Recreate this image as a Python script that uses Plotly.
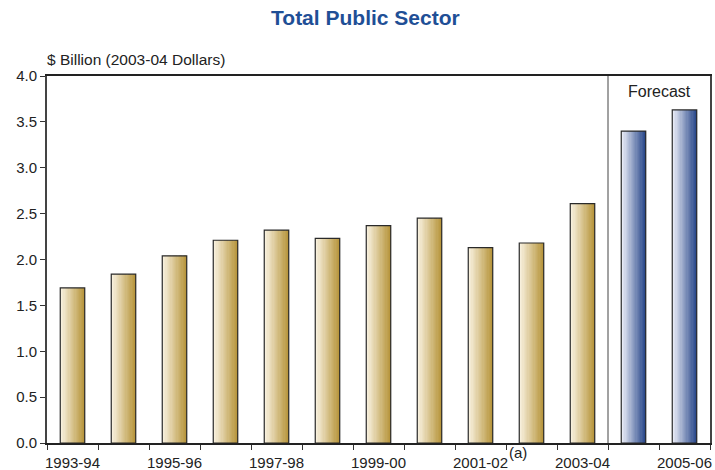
import plotly.graph_objects as go

# Financial years and spending ($ billion, 2003-04 dollars)
years = ["1993-94", "1994-95", "1995-96", "1996-97", "1997-98", "1998-99",
         "1999-00", "2000-01", "2001-02", "2002-03", "2003-04", "2004-05", "2005-06"]
values = [1.69, 1.84, 2.04, 2.21, 2.32, 2.23, 2.37, 2.45, 2.13, 2.18, 2.61, 3.40, 3.63]
forecast = [False] * 11 + [True] * 2
tick_labels = [y if i % 2 == 0 else "" for i, y in enumerate(years)]

# Gradient end colours (left -> right) for actual and forecast bars
gold_light, gold_dark = (250, 244, 228), (184, 150, 62)
blue_light, blue_dark = (240, 242, 250), (44, 74, 140)


def mix(c1, c2, t):
    return "rgb(%d,%d,%d)" % tuple(round(a + (b - a) * t) for a, b in zip(c1, c2))


BAR_W = 0.48
N_SLICES = 20
slice_w = BAR_W / N_SLICES

fig = go.Figure()

# Horizontal gradient fill built from thin vertical slices
for i in range(N_SLICES):
    t = i / (N_SLICES - 1)
    colors = [mix(blue_light, blue_dark, t) if f else mix(gold_light, gold_dark, t)
              for f in forecast]
    fig.add_trace(go.Bar(
        x=years, y=values, width=slice_w, offset=-BAR_W / 2 + i * slice_w,
        marker=dict(color=colors, line=dict(width=0)),
        showlegend=False, hoverinfo="skip",
    ))

# Bar outlines
fig.add_trace(go.Bar(
    x=years, y=values, width=BAR_W, offset=-BAR_W / 2,
    marker=dict(color="rgba(0,0,0,0)", line=dict(color="#2a2a2a", width=1.2)),
    showlegend=False,
))

# Separator between actual and forecast years
fig.add_shape(type="line", xref="x", yref="y", x0=10.5, x1=10.5, y0=0, y1=4,
              line=dict(color="#444444", width=1))

font_family = "Liberation Sans, Arial, sans-serif"

fig.add_annotation(x=11.5, y=3.83, xref="x", yref="y", text="Forecast",
                   showarrow=False, font=dict(family=font_family, size=16, color="#222"))
fig.add_annotation(x=8.74, y=-0.027, xref="x", yref="paper", yanchor="middle", text="(a)",
                   showarrow=False, font=dict(family=font_family, size=15, color="#222"))
fig.add_annotation(x=-0.003, y=1.0436, xref="paper", yref="paper", xanchor="left",
                   yanchor="middle", text="$ Billion (2003-04 Dollars)", showarrow=False,
                   font=dict(family=font_family, size=15.5, color="#222"))

fig.update_layout(
    width=715, height=470,
    margin=dict(l=47, r=5, t=76, b=27),
    paper_bgcolor="white", plot_bgcolor="white",
    barmode="overlay",
    title=dict(text="<b>Total Public Sector</b>", xref="container", x=0.511,
               y=1 - 18 / 470, yanchor="middle", xanchor="center",
               font=dict(family=font_family, size=21, color="#1f4f96")),
    font=dict(family=font_family, size=15, color="#222"),
    xaxis=dict(
        type="category", tickson="boundaries", automargin=False,
        tickvals=years, ticktext=tick_labels, tickangle=0,
        ticks="outside", ticklen=5, tickcolor="#333", tickwidth=1,
        ticklabelstandoff=5,
        showline=True, linecolor="#222", linewidth=1.5, mirror=True,
        showgrid=False, range=[-0.5, 12.5],
        tickfont=dict(size=15, color="#222"),
    ),
    yaxis=dict(
        range=[0, 4], dtick=0.5, tick0=0, tickformat=".1f", automargin=False,
        ticks="outside", ticklen=5, tickcolor="#333", tickwidth=1,
        showline=True, linecolor="#444", linewidth=2, mirror=True,
        showgrid=False, zeroline=False,
        tickfont=dict(size=15, color="#222"),
    ),
)

fig.write_html("out.html")
